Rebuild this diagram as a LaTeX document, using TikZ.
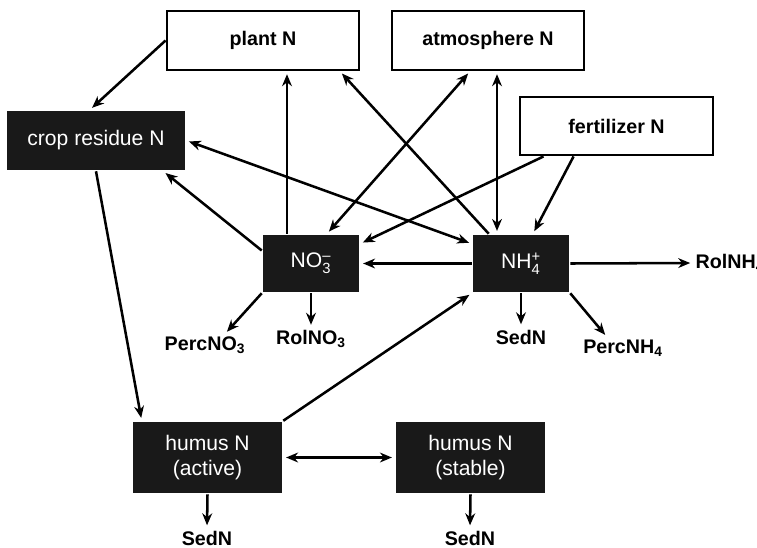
\documentclass[tikz,border=0pt]{standalone}
\usepackage{fontspec}
\usepackage{amsmath}
\setmainfont{Liberation Sans}
\usetikzlibrary{arrows.meta,calc}

\begin{document}
\begin{tikzpicture}[x=0.025cm,y=-0.025cm,line width=1.8pt,
  >={Stealth[length=8.5pt,width=7pt]},shorten >=2pt,
  pool/.style={draw,line width=2pt,fill=white,minimum width=4.8cm,minimum height=1.475cm,font=\fontsize{14}{16}\selectfont\bfseries},
  soil/.style={fill=black!90,text=white,inner sep=0pt,align=center,font=\fontsize{15}{17.5}\selectfont},
  sink/.style={inner sep=1pt,font=\fontsize{14}{16}\selectfont\bfseries}]
\useasboundingbox (0,0) rectangle (757,547);

\node[pool] (plant) at (263,40.5) {plant N};
\node[pool] (atm) at (488,40.5) {atmosphere N};
\node[pool,minimum width=4.825cm,minimum height=1.45cm] (fert) at (616.5,126) {fertilizer N};
\node[soil,minimum width=4.45cm,minimum height=1.475cm] (crop) at (96,140.5) {crop residue N};
\node[soil,minimum width=2.4cm,minimum height=1.425cm] (no3) at (311,263.5) {NO$_{\text{3}}^{\text{--}}$};
\node[soil,minimum width=2.4cm,minimum height=1.425cm] (nh4) at (521,263.5) {NH$_{\text{4}}^{\text{+}}$};
\node[soil,minimum width=3.725cm,minimum height=1.775cm] (humA) at (207.5,457.5) {humus N\\(active)};
\node[soil,minimum width=3.725cm,minimum height=1.775cm] (humS) at (470.5,457.5) {humus N\\(stable)};

\node[sink] (percno3) at (205,345) {PercNO\textsubscript{3}};
\node[sink] (rolno3) at (311,339) {RolNO\textsubscript{3}};
\node[sink] (sednh4) at (521,337) {SedN};
\node[sink] (percnh4) at (623,348) {PercNH\textsubscript{4}};
\node[sink,anchor=west] (rolnh4) at (693,263) {RolNH\textsubscript{4}};
\node[sink] (sedA) at (207,538) {SedN};
\node[sink] (sedS) at (470,538) {SedN};

\draw[->] (plant.west) -- ($(crop.north)+(-6,0)$);
\draw[->] ([xshift=-0.6cm]no3.north) -- ([xshift=-0.6cm]no3.north |- plant.south);
\draw[->] ($(nh4.north west)+(17,0)$) -- ($(plant.south)+(77,0)$);
\draw[<->,shorten <=2pt] ($(no3.north)+(16,0)$) -- ($(atm.south)+(-18,0)$);
\draw[<->,shorten <=2pt] ([xshift=0.225cm]atm.south) -- ([xshift=0.225cm]atm.south |- nh4.north);
\draw[->] ($(fert.south west)+(25,0)$) -- ($(no3.north east)+(0,10)$);
\draw[->] ($(fert.south west)+(55,0)$) -- ($(nh4.north)+(12,0)$);
\draw[<->,shorten <=2pt] (crop.east) -- ($(nh4.north west)+(0,10)$);
\draw[->] ($(no3.west)+(0,-13)$) -- ($(crop.south east)+(-23,0)$);
\draw[->] (nh4.west) -- (no3.east);
\draw[->] (nh4.east) -- (rolnh4.west);
\draw[->] (nh4.south) -- (sednh4.north);
\draw[->] (nh4.south east) -- ($(percnh4.north)+(-16,0)$);
\draw[->] (no3.south west) -- ($(percno3.north)+(20,0)$);
\draw[->] (no3.south) -- (rolno3.north);
\draw[->] (crop.south) -- ($(humA.north west)+(10,0)$);
\draw[->] (humA.north east) -- (nh4.south west);
\draw[<->,shorten <=2pt] (humA.east) -- (humS.west);
\draw[->] (humA.south) -- (sedA.north);
\draw[->] (humS.south) -- (sedS.north);
\end{tikzpicture}
\end{document}
